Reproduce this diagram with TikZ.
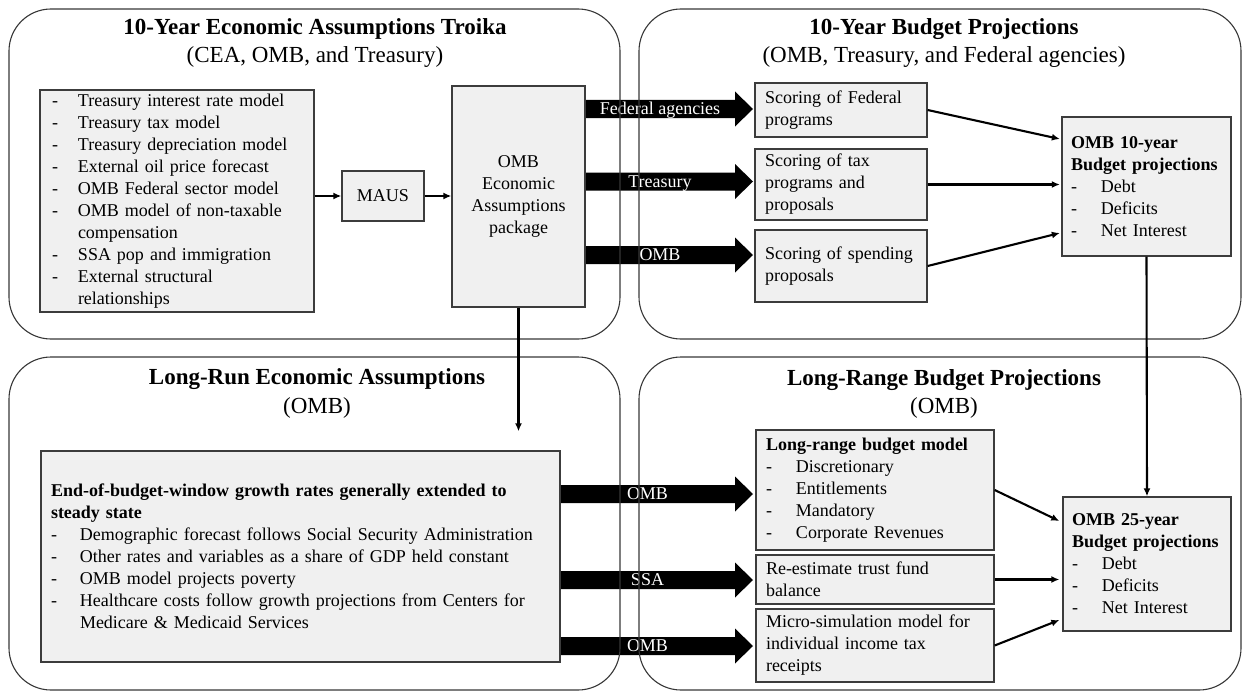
\documentclass[tikz,border=0pt]{standalone}
\usepackage{fontspec}
\setmainfont{Liberation Serif}
\usetikzlibrary{arrows.meta,calc}
\definecolor{boxfill}{RGB}{240,240,240}
\definecolor{boxline}{RGB}{60,60,60}
\definecolor{panelline}{RGB}{55,55,55}
\newcommand{\itm}[1]{\makebox[#1][l]{-}}
% fat black arrow: name, x start, x tip, y centre, label
\newcommand{\fatarrow}[5]{%
  \fill[black] (#2,#4-9) -- (#3-18,#4-9) -- (#3-18,#4-17.5) -- (#3,#4)
    -- (#3-18,#4+17.5) -- (#3-18,#4+9) -- (#2,#4+9) -- cycle;
  \node[fatlabel] (#1) at ({(#2+#3-18)/2},#4+5.5) {#5};}
\begin{document}
\begin{tikzpicture}[x=1pt,y=-1pt,
  every node/.style={font=\fontsize{18}{22}\selectfont},
  box/.style={draw=boxline, line width=1.3pt, fill=boxfill, align=left, inner ysep=0pt},
  cbox/.style={draw=boxline, line width=1.3pt, fill=boxfill, align=center, inner sep=0pt},
  title/.style={font=\fontsize{23}{27}\selectfont\bfseries, anchor=base},
  subtitle/.style={font=\fontsize{23}{27}\selectfont, anchor=base},
  panel/.style={draw=panelline, line width=1.1pt, rounded corners=42pt},
  conn/.style={draw=black, line width=2.1pt, -{Latex[length=8pt,width=7pt]}},
  fatlabel/.style={text=white, anchor=base, inner sep=0pt}
]
\useasboundingbox (0,0) rectangle (1243,693);

% fat arrows (drawn first, panels go over them)
\fatarrow{fa1}{585}{753}{109}{Federal agencies}
\fatarrow{fa2}{585}{753}{181.5}{Treasury}
\fatarrow{fa3}{585}{753}{255}{OMB}
\fatarrow{fb1}{560}{753}{494}{OMB}
\fatarrow{fb2}{560}{753}{580}{SSA}
\fatarrow{fb3}{560}{753}{646}{OMB}

% panels
\draw[panel] (9,9) rectangle (620,339);
\draw[panel] (639,9) rectangle (1241,339);
\draw[panel] (9,357) rectangle (620,690);
\draw[panel] (639,357) rectangle (1241,690);

% titles
\node[title] (t1) at (315,35) {10-Year Economic Assumptions Troika};
\node[subtitle] (s1) at (315,63) {(CEA, OMB, and Treasury)};
\node[title] (t2) at (944,35) {10-Year Budget Projections};
\node[subtitle] (s2) at (944,63) {(OMB, Treasury, and Federal agencies)};
\node[title] (t3) at (317,384) {Long-Run Economic Assumptions};
\node[subtitle] (s3) at (317,413) {(OMB)};
\node[title] (t4) at (944,385) {Long-Range Budget Projections};
\node[subtitle] (s4) at (944,413) {(OMB)};

% top-left boxes
\node[box, text width=250pt, inner xsep=12pt, minimum height=222pt] (lst) at (177,201) {%
\itm{26pt}Treasury interest rate model\\
\itm{26pt}Treasury tax model\\
\itm{26pt}Treasury depreciation model\\
\itm{26pt}External oil price forecast\\
\itm{26pt}OMB Federal sector model\\
\itm{26pt}OMB model of non-taxable\\
\hspace*{26pt}compensation\\
\itm{26pt}SSA pop and immigration\\
\itm{26pt}External structural\\
\hspace*{26pt}relationships};
\node[cbox, minimum width=82pt, minimum height=50pt] (maus) at (383,196) {MAUS};
\node[cbox, minimum width=133pt, minimum height=221pt] (pkg) at (518.5,196.5) {OMB\\Economic\\Assumptions\\package};

% top-right boxes
\node[box, text width=152pt, inner xsep=10pt, minimum height=54pt] (sf) at (841,110) {Scoring of Federal\\programs};
\node[box, text width=152pt, inner xsep=10pt, minimum height=71pt] (tx) at (841,184.5) {Scoring of tax\\programs and\\proposals};
\node[box, text width=152pt, inner xsep=10pt, minimum height=72pt] (sp) at (841,266) {Scoring of spending\\proposals};
\node[box, text width=151pt, inner xsep=9pt, minimum height=139pt] (o10) at (1146.5,186.5) {%
\textbf{OMB 10-year}\\
\textbf{Budget projections}\\
\itm{30pt}Debt\\
\itm{30pt}Deficits\\
\itm{30pt}Net Interest};

% bottom-left box
\node[box, text width=499pt, inner xsep=10pt, minimum height=211pt] (lr) at (300.5,556.5) {%
\textbf{End-of-budget-window growth rates generally extended to}\\
\textbf{steady state}\\
\itm{29pt}Demographic forecast follows Social Security Administration\\
\itm{29pt}Other rates and variables as a share of GDP held constant\\
\itm{29pt}OMB model projects poverty\\
\itm{29pt}Healthcare costs follow growth projections from Centers for\\
\hspace*{29pt}Medicare \& Medicaid Services};

% bottom-right boxes
\node[box, text width=218pt, inner xsep=10pt, minimum height=120pt] (lrb) at (875,490) {%
\textbf{Long-range budget model}\\
\itm{30pt}Discretionary\\
\itm{30pt}Entitlements\\
\itm{30pt}Mandatory\\
\itm{30pt}Corporate Revenues};
\node[box, text width=218pt, inner xsep=10pt, minimum height=49pt] (re) at (875,579.5) {Re-estimate trust fund\\balance};
\node[box, text width=218pt, inner xsep=10pt, minimum height=73pt] (mi) at (875,645.5) {Micro-simulation model for\\individual income tax\\receipts};
\node[box, text width=150pt, inner xsep=9pt, minimum height=134pt] (o25) at (1147,564) {%
\textbf{OMB 25-year}\\
\textbf{Budget projections}\\
\itm{30pt}Debt\\
\itm{30pt}Deficits\\
\itm{30pt}Net Interest};

% connectors
\draw[conn] (lst.east |- maus.west) -- (maus.west);
\draw[conn] (maus.east) -- (maus.east -| pkg.west);
\draw[conn, shorten >=19pt] (pkg.south) -- (pkg.south |- lr.north);
\draw[conn] (sf.east) -- ($(o10.west)+(-1.5,-47.5)$);
\draw[conn] (tx.east) -- ($(tx.east -| o10.west)+(-1.5,0)$);
\draw[conn] (sp.east) -- ($(o10.west)+(-1.5,46.5)$);
\draw[conn] (o10.south) -- (o25.north);
\draw[conn] (lrb.east) -- ($(o25.west)+(-3,-43)$);
\draw[conn] (re.east) -- ($(re.east -| o25.west)+(-3,0)$);
\draw[conn] (mi.east) -- ($(o25.west)+(-3,56)$);
\end{tikzpicture}
\end{document}
